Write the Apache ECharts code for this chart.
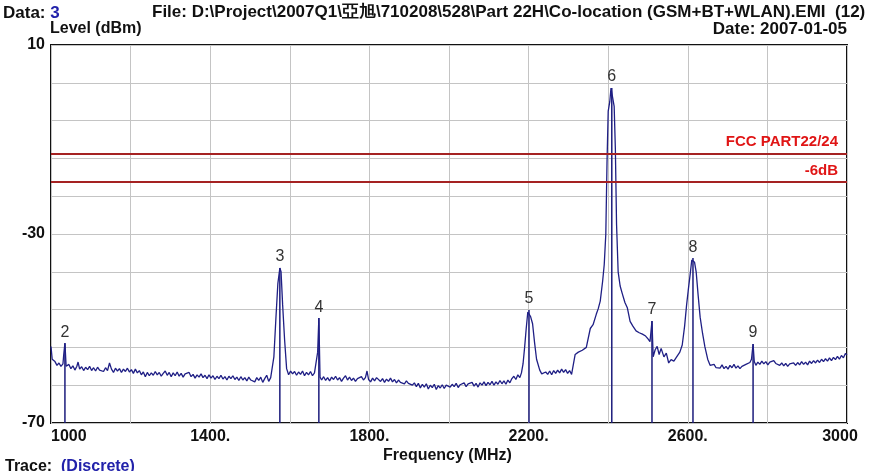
<!DOCTYPE html>
<html>
<head>
<meta charset="utf-8">
<script src="https://cdn.jsdelivr.net/npm/echarts@6/dist/echarts.min.js"></script>
<style>
html,body{margin:0;padding:0;background:#fff;}
#chart{width:872px;height:471px;}
</style>
</head>
<body>
<div id="chart"></div>
<script>
// Trace: [frequency (MHz), level (dBm)]
var tracePoints = [
[1000,-53.8],[1003,-56.5],[1010,-57.0],[1015,-57.8],[1020,-57.3],[1025,-58.0],[1030,-57.5],[1032,-55.5],[1035,-53.1],[1038,-58.0],
[1040,-58.3],[1045,-57.6],[1050,-58.5],[1055,-57.9],[1060,-58.8],[1065,-58.0],[1068,-57.1],[1072,-58.6],[1077,-58.1],[1082,-58.9],
[1087,-58.2],[1092,-58.7],[1097,-58.0],[1102,-58.9],[1107,-58.3],[1112,-59.0],[1117,-58.2],[1122,-58.8],[1127,-58.4],[1132,-59.1],
[1137,-58.3],[1142,-58.9],[1147,-57.3],[1152,-58.6],[1157,-59.3],[1162,-58.4],[1167,-59.0],[1172,-58.5],[1177,-59.3],[1182,-58.6],
[1187,-59.1],[1192,-58.4],[1197,-59.2],[1202,-58.7],[1207,-59.5],[1212,-58.6],[1217,-59.4],[1222,-58.9],[1227,-59.8],[1232,-59.2],
[1237,-60.2],[1242,-59.3],[1247,-60.0],[1252,-59.4],[1257,-59.9],[1262,-59.1],[1267,-59.8],[1272,-59.3],[1277,-60.1],[1282,-59.5],
[1287,-59.0],[1292,-59.9],[1297,-59.3],[1302,-60.2],[1307,-59.4],[1312,-60.0],[1317,-59.2],[1322,-60.1],[1327,-59.5],[1332,-60.3],
[1337,-59.6],[1342,-60.0],[1347,-59.3],[1352,-60.2],[1357,-59.7],[1362,-60.5],[1367,-59.8],[1372,-60.3],[1377,-59.6],[1382,-60.4],
[1387,-59.9],[1392,-60.6],[1397,-59.8],[1402,-60.5],[1407,-60.0],[1412,-60.8],[1417,-60.1],[1422,-60.6],[1427,-59.9],[1432,-60.7],
[1437,-60.2],[1442,-60.9],[1447,-60.1],[1452,-60.6],[1457,-60.0],[1462,-60.8],[1467,-60.3],[1472,-61.0],[1477,-60.2],[1482,-60.9],
[1487,-60.4],[1492,-61.1],[1497,-60.3],[1502,-60.9],[1507,-60.5],[1512,-61.3],[1517,-60.4],[1522,-61.0],[1527,-60.3],[1532,-61.4],
[1537,-60.6],[1542,-59.9],[1547,-61.2],[1552,-60.4],[1556,-60.0],[1560,-56.0],[1565,-48.0],[1570,-40.5],[1575,-37.2],[1578,-38.0],
[1582,-45.0],[1587,-52.5],[1592,-58.5],[1597,-59.8],[1602,-59.0],[1607,-59.6],[1612,-59.1],[1617,-59.9],[1622,-59.2],[1627,-59.7],
[1632,-59.0],[1637,-60.0],[1642,-59.3],[1647,-59.8],[1652,-59.1],[1657,-60.0],[1662,-59.4],[1667,-59.8],[1670,-55.0],[1673,-47.8],
[1676,-60.3],[1680,-60.9],[1685,-60.2],[1690,-61.0],[1695,-60.4],[1700,-61.1],[1705,-60.3],[1710,-60.8],[1715,-60.1],[1720,-60.9],
[1725,-60.4],[1730,-61.2],[1735,-60.5],[1740,-60.0],[1745,-60.9],[1750,-60.3],[1755,-61.0],[1760,-60.5],[1765,-61.2],[1770,-60.6],
[1775,-61.0],[1780,-60.2],[1785,-60.9],[1790,-60.4],[1794,-59.0],[1798,-60.8],[1803,-61.3],[1808,-60.5],[1813,-61.1],[1818,-60.4],
[1823,-60.0],[1828,-61.2],[1833,-60.6],[1838,-61.4],[1843,-60.7],[1848,-61.2],[1853,-60.5],[1858,-61.3],[1863,-60.8],[1868,-61.5],
[1873,-60.9],[1878,-61.4],[1883,-61.0],[1888,-61.7],[1893,-61.1],[1898,-61.6],[1903,-61.2],[1908,-62.0],[1913,-61.5],[1918,-62.3],
[1923,-61.6],[1928,-62.6],[1933,-61.8],[1938,-62.4],[1943,-61.7],[1948,-62.8],[1953,-62.0],[1958,-62.5],[1963,-61.8],[1968,-62.9],
[1973,-62.1],[1978,-62.6],[1983,-61.9],[1988,-62.7],[1993,-62.0],[1998,-61.6],[2003,-62.4],[2008,-61.8],[2013,-62.3],[2018,-61.6],
[2023,-62.5],[2028,-61.9],[2033,-62.2],[2038,-61.5],[2043,-62.3],[2048,-61.7],[2053,-62.1],[2058,-61.4],[2063,-62.2],[2068,-61.6],
[2073,-62.4],[2078,-61.5],[2083,-62.0],[2088,-61.3],[2093,-62.1],[2098,-61.4],[2103,-61.9],[2108,-61.2],[2113,-62.0],[2118,-61.3],
[2123,-61.8],[2128,-61.0],[2133,-61.7],[2138,-61.1],[2143,-61.8],[2148,-60.9],[2153,-61.5],[2158,-60.6],[2163,-60.1],[2168,-60.8],
[2173,-59.8],[2178,-60.4],[2182,-59.4],[2186,-57.5],[2190,-54.0],[2194,-50.0],[2198,-46.5],[2201,-46.1],[2205,-47.5],[2210,-49.0],
[2215,-53.0],[2220,-56.5],[2228,-58.8],[2233,-59.6],[2238,-59.9],[2243,-59.2],[2248,-59.7],[2253,-59.0],[2258,-59.8],[2263,-58.9],
[2268,-59.5],[2273,-58.8],[2278,-59.4],[2283,-58.6],[2288,-59.3],[2293,-58.7],[2298,-59.5],[2303,-58.9],[2308,-59.7],[2312,-59.5],
[2317,-55.5],[2325,-55.0],[2335,-54.6],[2345,-54.0],[2350,-53.8],[2355,-50.0],[2362,-49.2],[2370,-47.0],[2375,-45.8],[2380,-44.2],
[2386,-40.0],[2390,-36.5],[2394,-30.0],[2397,-15.0],[2400,-4.0],[2404,-2.0],[2407,0.9],[2412,0.9],[2415,-3.0],[2418,-12.0],
[2421,-28.0],[2425,-38.0],[2430,-41.0],[2435,-42.5],[2442,-44.5],[2448,-45.6],[2455,-48.5],[2462,-49.5],[2470,-50.5],[2478,-50.9],
[2486,-51.2],[2494,-51.6],[2500,-52.2],[2505,-52.8],[2510,-48.4],[2513,-56.0],[2518,-54.5],[2523,-53.8],[2528,-55.5],[2533,-54.2],
[2540,-56.0],[2546,-55.2],[2552,-57.3],[2558,-56.6],[2565,-56.9],[2572,-56.0],[2580,-55.0],[2586,-53.5],[2592,-49.5],[2597,-45.0],
[2601,-42.0],[2606,-38.5],[2610,-35.5],[2613,-35.1],[2617,-36.0],[2621,-38.0],[2626,-43.0],[2631,-47.6],[2637,-51.0],[2643,-53.9],
[2650,-56.5],[2656,-57.8],[2661,-58.2],[2666,-57.6],[2671,-58.3],[2676,-57.9],[2681,-58.4],[2686,-57.7],[2691,-58.5],[2696,-58.0],
[2701,-58.6],[2706,-57.8],[2711,-58.3],[2716,-57.6],[2721,-58.4],[2726,-57.9],[2731,-58.5],[2736,-58.0],[2741,-58.4],[2746,-57.6],
[2751,-58.0],[2756,-57.2],[2760,-56.5],[2764,-53.3],[2767,-57.0],[2771,-57.8],[2776,-57.1],[2781,-57.6],[2786,-56.9],[2791,-57.5],
[2796,-57.0],[2801,-57.7],[2806,-57.1],[2811,-57.5],[2816,-56.8],[2821,-57.4],[2826,-57.0],[2831,-57.8],[2836,-57.3],[2841,-57.9],
[2846,-57.4],[2851,-58.0],[2856,-57.5],[2861,-57.9],[2866,-57.3],[2871,-57.8],[2876,-57.2],[2881,-57.7],[2886,-57.0],[2891,-57.6],
[2896,-57.1],[2901,-57.7],[2906,-56.9],[2911,-57.4],[2916,-56.8],[2921,-57.3],[2926,-56.7],[2931,-57.2],[2936,-56.5],[2941,-57.0],
[2946,-56.4],[2951,-56.9],[2956,-56.2],[2961,-56.8],[2966,-56.1],[2971,-56.6],[2976,-55.9],[2981,-56.5],[2986,-55.7],[2991,-56.2],
[2996,-55.3],[3000,-55.6]
];
// Markers
var markerIds = [2,3,4,5,6,7,8,9];
var markerFreq = [1035,1575,1673,2201,2409,2510,2613,2764];
var markerLevel = [-53.1,-37.2,-47.8,-46.1,0.9,-48.4,-35.1,-53.3];
// Limit lines
var limitLevels = [-13,-19];
var limitNames = ['FCC PART22/24','-6dB'];
// Axis tick labels
var xTickLabels = {1000:'1000',1400:'1400.',1800:'1800.',2200:'2200.',2600:'2600.',3000:'3000'};
var yTickLabels = {10:'10','-30':'-30','-70':'-70'};

var markerData = markerFreq.map(function(f,i){return [f, markerLevel[i], markerIds[i]];});

var FONT = 'Liberation Sans';
var chart = echarts.init(document.getElementById('chart'), null, {renderer:'canvas'});
chart.setOption({
  backgroundColor:'#ffffff',
  animation:false,
  grid:{left:51,right:25,top:45,bottom:48,show:true,borderColor:'#111',borderWidth:2,backgroundColor:'transparent'},
  xAxis:{
    type:'value',min:1000,max:3000,interval:200,
    axisLine:{show:false},axisTick:{show:false},
    splitLine:{show:true,lineStyle:{color:'#c4c4c4',width:1}},
    axisLabel:{
      margin:6,color:'#111',fontFamily:FONT,fontWeight:'bold',fontSize:16,
      showMinLabel:true,showMaxLabel:true,alignMinLabel:'left',
      formatter:function(v){
        if(v===3000) return '{mx|3000}';
        return xTickLabels[v]||'';
      },
      rich:{mx:{padding:[0,14,0,0],color:'#111',fontFamily:FONT,fontWeight:'bold',fontSize:16}}
    }
  },
  yAxis:{
    type:'value',min:-70,max:10,interval:8,
    axisLine:{show:false},axisTick:{show:false},
    splitLine:{show:true,lineStyle:{color:'#c4c4c4',width:1}},
    axisLabel:{
      margin:6,color:'#111',fontFamily:FONT,fontWeight:'bold',fontSize:16,
      showMinLabel:true,showMaxLabel:true,
      formatter:function(v){return yTickLabels[v]||'';}
    }
  },
  graphic:[
    {type:'text',left:3,top:5,style:{text:'{a|Data: }{b|3}',rich:{a:{font:'bold 17px '+FONT,fill:'#111'},b:{font:'bold 17px '+FONT,fill:'#2222aa'}}}},
    {type:'text',left:152,top:4,style:{text:'File: D:\\Project\\2007Q1\\亞旭\\710208\\528\\Part 22H\\Co-location (GSM+BT+WLAN).EMI  (12)',font:'bold 17px '+FONT,fill:'#111'}},
    {type:'text',left:50,top:21,style:{text:'Level (dBm)',font:'bold 16px '+FONT,fill:'#111'}},
    {type:'text',right:25,top:21,style:{text:'Date: 2007-01-05',font:'bold 17px '+FONT,fill:'#111'}},
    {type:'text',left:383,top:448,style:{text:'Frequency (MHz)',font:'bold 16px '+FONT,fill:'#111'}},
    {type:'text',left:5,top:459,style:{text:'{a|Trace:  }{b|(Discrete)}',rich:{a:{font:'bold 16px '+FONT,fill:'#111'},b:{font:'bold 16px '+FONT,fill:'#2222aa'}}}}
  ],
  series:[
    {
      type:'custom',
      data:markerData,
      z:2,
      renderItem:function(params,api){
        var top=api.coord([api.value(0),api.value(1)]);
        var bot=api.coord([api.value(0),-70]);
        return {type:'group',children:[
          {type:'line',shape:{x1:top[0],y1:top[1],x2:bot[0],y2:bot[1]},style:{stroke:'#1c1c7c',lineWidth:1.5}},
          {type:'text',style:{text:String(api.value(2)),x:top[0],y:top[1]-3,textAlign:'center',textVerticalAlign:'bottom',font:'16px '+FONT,fill:'#333'}}
        ]};
      }
    },
    {
      type:'line',
      data:tracePoints,
      showSymbol:false,
      z:3,
      lineStyle:{color:'#1f1f85',width:1.3},
      markLine:{
        symbol:['none','none'],
        silent:true,
        lineStyle:{color:'#a52222',width:2,type:'solid'},
        label:{position:'insideEndTop',distance:[9,4],color:'#e01515',fontFamily:FONT,fontWeight:'bold',fontSize:15},
        data:limitLevels.map(function(v,i){return {yAxis:v,label:{formatter:limitNames[i]}};})
      }
    }
  ]
});
</script>
</body>
</html>
